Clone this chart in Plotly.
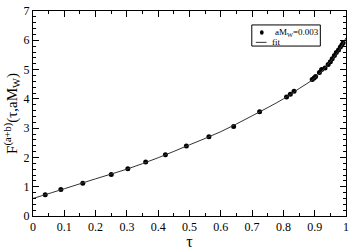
import plotly.graph_objects as go

# data points
tau = [0.039, 0.089, 0.159, 0.25, 0.303, 0.36, 0.423, 0.49, 0.562, 0.641, 0.724,
       0.81, 0.822, 0.834, 0.892, 0.898, 0.903, 0.915, 0.922, 0.933, 0.943,
       0.950, 0.956, 0.963, 0.969, 0.976, 0.982, 0.987, 0.991]
F = [0.725, 0.905, 1.12, 1.42, 1.61, 1.84, 2.09, 2.39, 2.71, 3.06, 3.56,
     4.06, 4.16, 4.26, 4.66, 4.71, 4.76, 4.90, 5.00, 5.05, 5.17,
     5.27, 5.37, 5.48, 5.58, 5.67, 5.77, 5.84, 5.92]

# fit curve
fit_tau = [0.0, 0.1, 0.2, 0.3, 0.4, 0.5, 0.6, 0.7, 0.8, 0.85, 0.9, 0.95, 0.98, 1.0]
fit_F = [0.6, 0.93, 1.27, 1.6, 1.99, 2.43, 2.88, 3.42, 4.0, 4.35, 4.71, 5.27, 5.7, 6.08]

series_name = 'aM<sub>W</sub>=0.003'
fit_name = 'fit'

serif = 'Liberation Serif'

fig = go.Figure()
fig.add_trace(go.Scatter(
    x=tau, y=F, mode='markers', name=series_name, showlegend=False,
    marker={'color': 'black', 'size': 5}
))
fig.add_trace(go.Scatter(
    x=fit_tau, y=fit_F, mode='lines', name=fit_name, line_shape='spline',
    showlegend=False, line={'color': '#333333', 'width': 1}
))

axis_common = dict(
    showline=True, linecolor='black', linewidth=1, mirror='allticks',
    ticks='inside', ticklen=6, tickcolor='black', showgrid=False, zeroline=False,
    ticklabeloverflow='allow',
    tickfont={'family': serif, 'size': 12, 'color': 'black'},
)
fig.update_xaxes(
    range=[0, 1], dtick=0.1, tick0=0,
    minor={'dtick': 0.05, 'ticks': 'inside', 'ticklen': 3, 'tickcolor': 'black'},
    title={'text': 'τ', 'font': {'family': serif, 'size': 16, 'color': 'black'},
           'standoff': 0},
    **axis_common
)
fig.update_yaxes(
    range=[0, 7], dtick=1, tick0=0,
    minor={'dtick': 0.2, 'ticks': 'inside', 'ticklen': 3, 'tickcolor': 'black'},
    title={'text': 'F<sup>(a+b)</sup>(τ,aM<sub>W</sub>)',
           'font': {'family': serif, 'size': 15, 'color': 'black'},
           'standoff': 2},
    **axis_common
)

# hand-drawn legend box, like the original
fig.add_shape(type='rect', xref='paper', yref='paper', x0=0.699, x1=0.918, y0=0.829, y1=0.932,
              line={'color': 'black', 'width': 1}, fillcolor='white', layer='above')
fig.add_shape(type='circle', xref='paper', yref='paper', x0=0.725, x1=0.737, y0=0.884, y1=0.906,
              line={'color': 'black', 'width': 0}, fillcolor='black', layer='above')
fig.add_shape(type='line', xref='paper', yref='paper', x0=0.712, x1=0.746, y0=0.847, y1=0.847,
              line={'color': '#333333', 'width': 1}, layer='above')
fig.add_annotation(xref='paper', yref='paper', x=0.766, y=0.897, text=series_name,
                   showarrow=False, xanchor='left', yanchor='middle',
                   font={'family': serif, 'size': 9, 'color': 'black'})
fig.add_annotation(xref='paper', yref='paper', x=0.757, y=0.849, text=fit_name,
                   showarrow=False, xanchor='left', yanchor='middle',
                   font={'family': serif, 'size': 9, 'color': 'black'})

fig.update_layout(
    width=353, height=250,
    margin={'l': 33, 'r': 4, 't': 5, 'b': 23},
    plot_bgcolor='white', paper_bgcolor='white',
    showlegend=False,
)

fig.write_html("out.html", config={'displayModeBar': False},
               post_script="document.body.style.margin='0px';")
